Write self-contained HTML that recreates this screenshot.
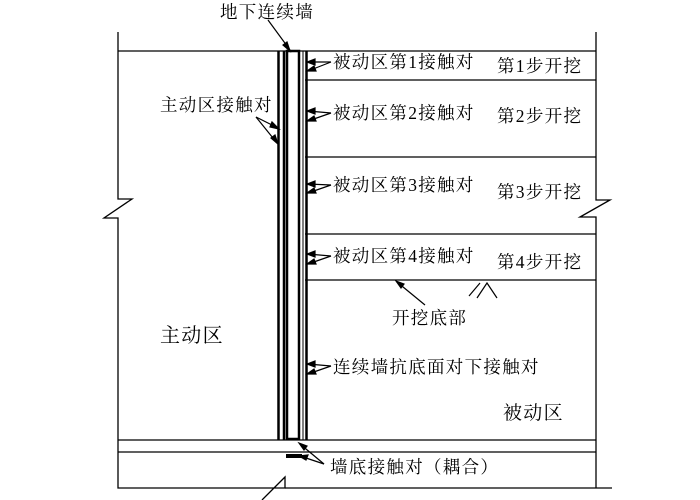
<!DOCTYPE html>
<html><head><meta charset="utf-8"><style>
html,body{margin:0;padding:0;background:#fff;}
svg{display:block;}
text{font-family:"Liberation Serif","Noto Serif CJK SC",serif;font-size:17.5px;letter-spacing:1.3px;fill:#000;}
</style></head><body>
<svg width="700" height="500" viewBox="0 0 700 500" xmlns="http://www.w3.org/2000/svg">
<g stroke="#000" fill="none" stroke-width="1.3">
<polyline points="118,32 118,199 132,199 104,218 118,218 118,488 285,488 285,477 262,500"/>
<polyline points="596,32 596,200 610,200 580,217 596,217 596,460"/>
<line x1="596" y1="460" x2="596" y2="488"/>
<line x1="285" y1="488" x2="612" y2="488"/>
<line x1="118" y1="51" x2="596" y2="51"/>
<line x1="305" y1="80" x2="596" y2="80"/>
<line x1="305" y1="157" x2="596" y2="157"/>
<line x1="305" y1="234" x2="596" y2="234"/>
<line x1="305" y1="280" x2="596" y2="280"/>
<line x1="118" y1="440" x2="596" y2="440"/>
<line x1="118" y1="452" x2="596" y2="452"/>
</g>
<g stroke="#000" fill="none">
<line x1="278.5" y1="51" x2="278.5" y2="440" stroke-width="2.5"/>
<line x1="284" y1="51" x2="284" y2="440" stroke-width="2.5"/>
<rect x="287" y="51" width="12" height="388" stroke-width="2.5"/>
<line x1="303" y1="51" x2="303" y2="440" stroke-width="1"/>
<line x1="306.5" y1="51" x2="306.5" y2="440" stroke-width="2.5"/>
</g>
<g stroke="#000" stroke-width="1.2" fill="#000">
<line x1="268" y1="20" x2="290" y2="50"/><polygon points="290,51 283,45 287,42"/>
<line x1="256" y1="117" x2="278" y2="128"/><polygon points="279,129 270,127 272,122"/>
<line x1="256" y1="117" x2="277" y2="143"/><polygon points="278,144 271,138 275,135"/>
<line x1="331" y1="62" x2="308" y2="62"/><polygon points="307,62 315,59 315,65"/>
<line x1="331" y1="62" x2="308" y2="71"/><polygon points="307,71 314,66 316,71"/>
<line x1="331" y1="113" x2="308" y2="111"/><polygon points="307,111 315,108 315,114"/>
<line x1="331" y1="113" x2="308" y2="121"/><polygon points="307,121 314,116 316,121"/>
<line x1="331" y1="185" x2="308" y2="184"/><polygon points="307,184 315,181 315,187"/>
<line x1="331" y1="185" x2="308" y2="193"/><polygon points="307,193 314,188 316,193"/>
<line x1="331" y1="256" x2="308" y2="254"/><polygon points="307,254 315,251 315,257"/>
<line x1="331" y1="256" x2="308" y2="264"/><polygon points="307,264 314,259 316,264"/>
<line x1="331" y1="366" x2="308" y2="364"/><polygon points="307,364 315,361 315,367"/>
<line x1="331" y1="366" x2="308" y2="374"/><polygon points="307,374 314,369 316,374"/>
<line x1="425" y1="305" x2="397" y2="282"/><polygon points="396,281 404,284 401,288"/>
<line x1="324" y1="464" x2="300" y2="444"/><polygon points="299,443 307,446 304,450"/>
<line x1="324" y1="464" x2="300" y2="456"/><polygon points="299,456 308,455 306,460"/>
</g>
<polygon points="286,454 302,454 302,458 286,458" fill="#000"/>
<g stroke="#000" stroke-width="1.2" fill="none">
<line x1="469" y1="296" x2="480" y2="283"/>
<polyline points="477,298 487,283 497,298"/>
</g>
<text x="220" y="18">地下连续墙</text>
<text x="160" y="111">主动区接触对</text>
<text x="333" y="68">被动区第1接触对</text>
<text x="333" y="119">被动区第2接触对</text>
<text x="333" y="191">被动区第3接触对</text>
<text x="333" y="262">被动区第4接触对</text>
<text x="497" y="72">第1步开挖</text>
<text x="497" y="122">第2步开挖</text>
<text x="497" y="198">第3步开挖</text>
<text x="497" y="268">第4步开挖</text>
<text x="160" y="342" style="font-size:20px">主动区</text>
<text x="392" y="324">开挖底部</text>
<text x="333" y="373">连续墙抗底面对下接触对</text>
<text x="503" y="419" style="font-size:19px">被动区</text>
<text x="330" y="473">墙底接触对（耦合）</text>
</svg>
</body></html>
